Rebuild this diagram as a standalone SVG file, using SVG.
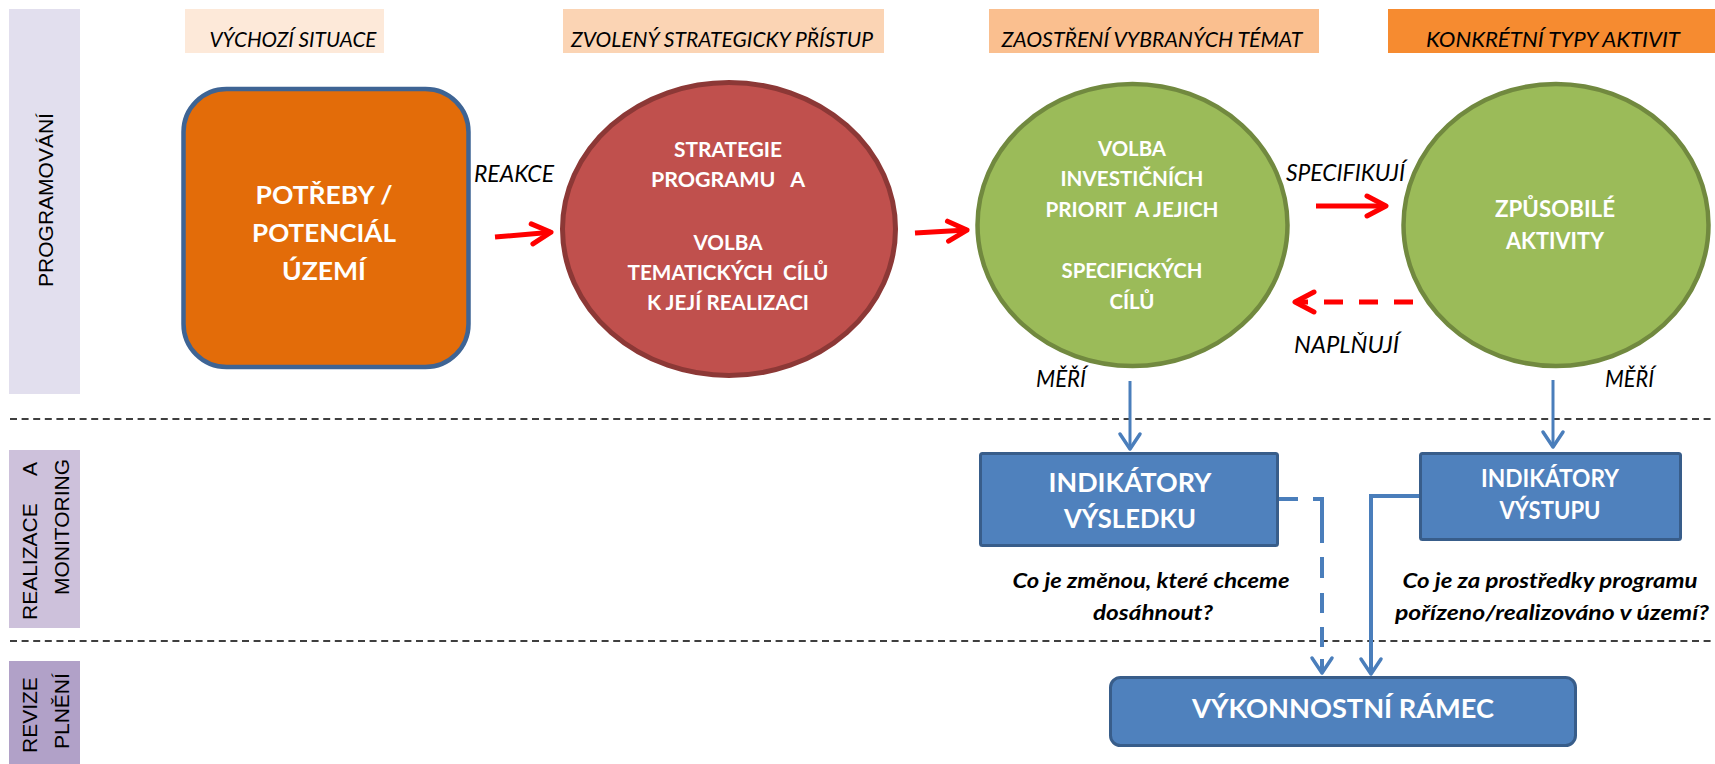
<svg xmlns="http://www.w3.org/2000/svg" width="1715" height="764" viewBox="0 0 1715 764">
<style>
.hdr{font-family:Lato,"Liberation Sans",sans-serif;font-style:italic;font-size:21px;fill:#000;text-anchor:middle}
.lbl{font-family:Lato,"Liberation Sans",sans-serif;font-style:italic;font-size:22.5px;fill:#000}
.node{font-family:Lato,"Liberation Sans",sans-serif;font-weight:bold;fill:#fff;text-anchor:middle}
.side{font-family:"Liberation Sans",Arial,sans-serif;font-size:21px;fill:#000}
.q{font-family:Lato,"Liberation Sans",sans-serif;font-weight:bold;font-style:italic;font-size:20px;fill:#000;text-anchor:middle}
.sep{stroke:#000;stroke-width:1.6;stroke-dasharray:7 4.6;fill:none}
.red{stroke:#FF0000;stroke-width:5;fill:none}
.blue{stroke:#4A7EBB;fill:none}
.bbox{fill:#4F81BD;stroke:#385D8A;stroke-width:3}
.green{fill:#9BBB59;stroke:#71893F;stroke-width:4.5}
</style>
<defs>
<marker id="redHead" viewBox="-24 -14 28 28" markerWidth="28" markerHeight="28" refX="0" refY="0" orient="auto" markerUnits="userSpaceOnUse">
<path d="M-19,-10 L0,0 L-19,10" fill="none" stroke="#FF0000" stroke-width="5" stroke-linecap="round" stroke-linejoin="round"/>
</marker>
<marker id="blueHead" viewBox="-20 -14 24 28" markerWidth="24" markerHeight="28" refX="0" refY="0" orient="auto" markerUnits="userSpaceOnUse">
<path d="M-15,-10 L0,0 L-15,10" fill="none" stroke="#4A7EBB" stroke-width="3.5" stroke-linecap="round" stroke-linejoin="round"/>
</marker>
</defs>

<rect width="1715" height="764" fill="#fff"/>

<!-- side bands -->
<g id="band-programovani">
<rect x="9" y="9" width="71" height="385" fill="#E2DFEE"/>
<text class="side" transform="translate(53,200) rotate(-90)" text-anchor="middle">PROGRAMOVÁNÍ</text>
</g>
<g id="band-realizace">
<rect x="9" y="450" width="71" height="178" fill="#CDC1DB"/>
<text class="side" transform="translate(36.5,620) rotate(-90)">REALIZACE<tspan x="144">A</tspan></text>
<text class="side" transform="translate(68.5,595) rotate(-90)">MONITORING</text>
</g>
<g id="band-revize">
<rect x="9" y="661" width="71" height="103" fill="#B1A1C8"/>
<text class="side" transform="translate(36.5,753) rotate(-90)">REVIZE</text>
<text class="side" transform="translate(68.5,749) rotate(-90)">PLNĚNÍ</text>
</g>

<!-- separators -->
<g id="separators">
<line class="sep" x1="10" y1="419" x2="1715" y2="419"/>
<line class="sep" x1="10" y1="641" x2="1715" y2="641"/>
</g>

<!-- headers -->
<g id="hdr1"><rect x="185" y="9" width="199" height="44" fill="#FDE9D9"/><text class="hdr" x="293" y="47" textLength="167" lengthAdjust="spacingAndGlyphs">VÝCHOZÍ SITUACE</text></g>
<g id="hdr2"><rect x="563" y="9" width="321" height="44" fill="#FBD4B4"/><text class="hdr" x="722" y="47" textLength="302" lengthAdjust="spacingAndGlyphs">ZVOLENÝ STRATEGICKY PŘÍSTUP</text></g>
<g id="hdr3"><rect x="989" y="9" width="330" height="44" fill="#FABF8F"/><text class="hdr" x="1152" y="47" textLength="301" lengthAdjust="spacingAndGlyphs">ZAOSTŘENÍ VYBRANÝCH TÉMAT</text></g>
<g id="hdr4"><rect x="1388" y="9" width="327" height="44" fill="#F68B30"/><text class="hdr" x="1553" y="47" textLength="254" lengthAdjust="spacingAndGlyphs">KONKRÉTNÍ TYPY AKTIVIT</text></g>

<!-- nodes -->
<g id="potreby">
<rect x="183.5" y="89" width="285" height="278" rx="43" fill="#E36C09" stroke="#3E6494" stroke-width="4.5"/>
<text class="node" font-size="25" x="324" y="204" textLength="137" lengthAdjust="spacingAndGlyphs">POTŘEBY /</text>
<text class="node" font-size="25" x="324" y="242" textLength="144" lengthAdjust="spacingAndGlyphs">POTENCIÁL</text>
<text class="node" font-size="25" x="324" y="280" textLength="84" lengthAdjust="spacingAndGlyphs">ÚZEMÍ</text>
</g>

<g id="strategie">
<ellipse cx="729" cy="229" rx="166.5" ry="146.5" fill="#C0504D" stroke="#8C3836" stroke-width="5"/>
<text class="node" font-size="21" x="728" y="157" textLength="108" lengthAdjust="spacingAndGlyphs">STRATEGIE</text>
<text class="node" font-size="21" x="728" y="187" textLength="154" lengthAdjust="spacingAndGlyphs" xml:space="preserve">PROGRAMU   A</text>
<text class="node" font-size="21" x="728" y="250" textLength="69" lengthAdjust="spacingAndGlyphs">VOLBA</text>
<text class="node" font-size="21" x="728" y="280" textLength="201" lengthAdjust="spacingAndGlyphs" xml:space="preserve">TEMATICKÝCH  CÍLŮ</text>
<text class="node" font-size="21" x="728" y="310" textLength="162" lengthAdjust="spacingAndGlyphs">K JEJÍ REALIZACI</text>
</g>

<g id="volba-ip">
<ellipse class="green" cx="1132.5" cy="225" rx="155" ry="141"/>
<text class="node" font-size="21" x="1132" y="156" textLength="68" lengthAdjust="spacingAndGlyphs">VOLBA</text>
<text class="node" font-size="21" x="1132" y="186" textLength="143" lengthAdjust="spacingAndGlyphs">INVESTIČNÍCH</text>
<text class="node" font-size="21" x="1132" y="217" textLength="173" lengthAdjust="spacingAndGlyphs" xml:space="preserve">PRIORIT  A JEJICH</text>
<text class="node" font-size="21" x="1132" y="278" textLength="141" lengthAdjust="spacingAndGlyphs">SPECIFICKÝCH</text>
<text class="node" font-size="21" x="1132" y="309" textLength="45" lengthAdjust="spacingAndGlyphs">CÍLŮ</text>
</g>

<g id="aktivity">
<ellipse class="green" cx="1556" cy="225" rx="152.5" ry="141"/>
<text class="node" font-size="23" x="1555" y="217" textLength="120" lengthAdjust="spacingAndGlyphs">ZPŮSOBILÉ</text>
<text class="node" font-size="23" x="1555" y="249" textLength="98" lengthAdjust="spacingAndGlyphs">AKTIVITY</text>
</g>

<g id="ind-vysledku">
<rect class="bbox" x="980.5" y="453.5" width="297" height="92" rx="2"/>
<text class="node" font-size="27" x="1130" y="492" textLength="163" lengthAdjust="spacingAndGlyphs">INDIKÁTORY</text>
<text class="node" font-size="27" x="1130" y="528" textLength="132" lengthAdjust="spacingAndGlyphs">VÝSLEDKU</text>
</g>

<g id="ind-vystupu">
<rect class="bbox" x="1420.5" y="453.5" width="260" height="86" rx="2"/>
<text class="node" font-size="24" x="1550" y="487" textLength="138" lengthAdjust="spacingAndGlyphs">INDIKÁTORY</text>
<text class="node" font-size="24" x="1550" y="519" textLength="101" lengthAdjust="spacingAndGlyphs">VÝSTUPU</text>
</g>

<g id="vykonnostni-ramec">
<rect class="bbox" x="1110.5" y="677.5" width="465" height="68" rx="10"/>
<text class="node" font-size="27" x="1343" y="718" textLength="302" lengthAdjust="spacingAndGlyphs">VÝKONNOSTNÍ RÁMEC</text>
</g>

<!-- connectors -->
<g id="connectors">
<line class="red" x1="495" y1="237" x2="551" y2="232.2" marker-end="url(#redHead)"/>
<line class="red" x1="915" y1="233" x2="967" y2="230.1" marker-end="url(#redHead)"/>
<line class="red" x1="1316" y1="206" x2="1386" y2="206" marker-end="url(#redHead)"/>
<line class="red" x1="1413" y1="302" x2="1295" y2="302" stroke-dasharray="19 16" marker-end="url(#redHead)"/>
<line class="blue" stroke-width="3" x1="1130" y1="381" x2="1130" y2="449" marker-end="url(#blueHead)"/>
<line class="blue" stroke-width="3" x1="1553" y1="380" x2="1553" y2="447" marker-end="url(#blueHead)"/>
<path class="blue" stroke-width="4" d="M1279,499 H1322 V673" stroke-dasharray="19 15 53 14 21 15 20 14 20 12 40" marker-end="url(#blueHead)"/>
<path class="blue" stroke-width="4" d="M1419,496 H1371 V674" marker-end="url(#blueHead)"/>
</g>

<!-- connector labels -->
<g id="labels">
<text class="lbl" x="474" y="182" textLength="80" lengthAdjust="spacingAndGlyphs">REAKCE</text>
<text class="lbl" x="1286" y="181" textLength="119" lengthAdjust="spacingAndGlyphs">SPECIFIKUJÍ</text>
<text class="lbl" x="1294" y="353" textLength="105" lengthAdjust="spacingAndGlyphs">NAPLŇUJÍ</text>
<text class="lbl" x="1036" y="387" textLength="50" lengthAdjust="spacingAndGlyphs">MĚŘÍ</text>
<text class="lbl" x="1605" y="387" textLength="49" lengthAdjust="spacingAndGlyphs">MĚŘÍ</text>
<text class="q" x="1151" y="588" textLength="277" lengthAdjust="spacingAndGlyphs">Co je změnou, které chceme</text>
<text class="q" x="1153" y="620" textLength="120" lengthAdjust="spacingAndGlyphs">dosáhnout?</text>
<text class="q" x="1550" y="588" textLength="295" lengthAdjust="spacingAndGlyphs">Co je za prostředky programu</text>
<text class="q" x="1552" y="620" textLength="314" lengthAdjust="spacingAndGlyphs">pořízeno/realizováno v území?</text>
</g>
</svg>
